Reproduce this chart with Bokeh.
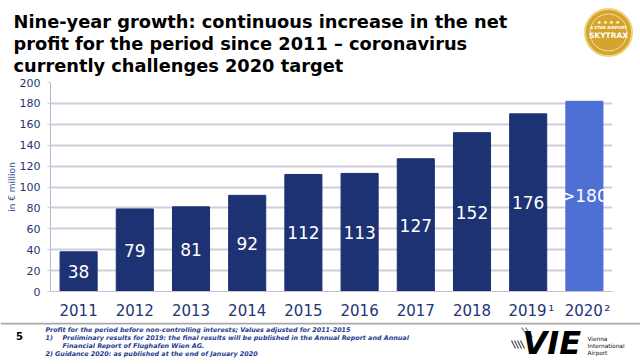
from bokeh.plotting import figure
from bokeh.layouts import column
from bokeh.models import FactorRange, Range1d, ColumnDataSource, FixedTicker
from bokeh.embed import file_html
from bokeh.resources import INLINE
from bokeh.core.properties import value

# ---------------- data ----------------
years = ["2011", "2012", "2013", "2014", "2015", "2016", "2017", "2018", "2019", "2020"]
profit = [38, 79, 81, 92, 112, 113, 127, 152, 170, 182]
bar_labels = ["38", "79", "81", "92", "112", "113", "127", "152", "176", ">180"]
footnote_years = ["2019", "2020"]
footnote_marks = ["\u00b9", "\u00b2"]
guidance_year = "2020"
y_ticks = [0, 20, 40, 60, 80, 100, 120, 140, 160, 180, 200]
y_label = "in € million"
title_lines = [
    "Nine-year growth: continuous increase in the net",
    "profit for the period since 2011 \u2013 coronavirus",
    "currently challenges 2020 target",
]
footer_lines = [
    "Profit for the period before non-controlling interests; Values adjusted for 2011-2015",
    "Preliminary results for 2019: the final results will be published in the Annual Report and Annual",
    "Financial Report of Flughafen Wien AG.",
    "Guidance 2020: as published at the end of January 2020",
]
footer_marks = ["1)", "2)"]
page_number = "5"
logo_text = "VIE"
logo_lines = ["Vienna", "International", "Airport"]
badge_lines = ["\u2605 \u2605 \u2605 \u2605", "4 STAR AIRPORT", "SKYTRAX"]

# ---------------- style ----------------
BAR = "#1d3273"
GUIDE = "#4e6fd4"
NAVY = "#233574"
GRID = "#cfcddc"
FOOT = "#1f3a8f"
FONT = "DejaVu Sans"

W = 640
TOP_H = 78          # title band (page y 0 .. 78)
MAIN_H = 244        # chart band (page y 78 .. 322)
BOT_H = 364 - TOP_H - MAIN_H


def band(h, y0):
    f = figure(width=W, height=h, x_range=Range1d(0, W), y_range=Range1d(y0 + h, y0),
               output_backend="svg", toolbar_location=None, x_axis_type=None, y_axis_type=None,
               min_border=0, frame_align=False)
    f.outline_line_color = None
    f.grid.visible = False
    return f


# ---------------- title band ----------------
top = band(TOP_H, 0)
top.text(x=[13] * 3, y=[21.4, 43.2, 65.0], text=title_lines, text_font=value(FONT),
         text_font_style="bold", text_font_size="17.8px", text_color="black", text_baseline="middle")
# skytrax badge (decoration)
top.scatter(x=[608], y=[32], size=47, marker="circle", fill_color="#d5a42c", line_color="#efd27e", line_width=2)
top.scatter(x=[608], y=[32], size=37, marker="circle", fill_color=None, line_color="#f4e2a6", line_width=1)
top.text(x=[608] * 3, y=[21, 27, 35], text=badge_lines, text_font=value(FONT), text_font_style="bold",
         text_font_size=["5px", "4px", "7.5px"], text_color="white", text_align="center",
         text_baseline="middle")

# ---------------- chart ----------------
display = {y: y for y in years}
for y, m in zip(footnote_years, footnote_marks):
    display[y] = "\u2008\u200a" + y + "\u200a" + m
factors = [display[y] for y in years]

p = figure(width=W, height=MAIN_H, x_range=FactorRange(*factors), y_range=Range1d(0, 200),
           output_backend="svg", toolbar_location=None, frame_align=False,
           min_border_left=50, min_border_right=28, min_border_top=4, min_border_bottom=30)
p.outline_line_color = None

p.xgrid.grid_line_color = None
p.ygrid.grid_line_color = GRID
p.ygrid.grid_line_width = 2
p.yaxis.ticker = FixedTicker(ticks=y_ticks)

p.yaxis.axis_line_color = "#b8b6c8"
p.yaxis.major_tick_line_color = GRID
p.yaxis.major_tick_out = 3
p.yaxis.major_tick_in = 0
p.yaxis.minor_tick_line_color = None
p.yaxis.major_label_standoff = 7
p.yaxis.major_label_text_font = FONT
p.yaxis.major_label_text_font_size = "11px"
p.yaxis.major_label_text_color = NAVY
p.yaxis.axis_label = y_label
p.yaxis.axis_label_text_font = FONT
p.yaxis.axis_label_text_font_size = "9px"
p.yaxis.axis_label_text_font_style = "normal"
p.yaxis.axis_label_text_color = "#3a4c96"
p.yaxis.axis_label_standoff = 0

p.xaxis.axis_line_color = "#c4c2d2"
p.xaxis.major_tick_line_color = None
p.xaxis.minor_tick_line_color = None
p.xaxis.major_tick_out = 0
p.xaxis.major_tick_in = 0
p.xaxis.major_label_standoff = 10
p.xaxis.major_label_text_font = FONT
p.xaxis.major_label_text_font_size = "15px"
p.xaxis.major_label_text_color = NAVY

colors = [GUIDE if y == guidance_year else BAR for y in years]
src = ColumnDataSource(dict(year=factors, profit=profit, mid=[v / 2 for v in profit],
                            label=bar_labels, color=colors))
p.vbar(x="year", top="profit", width=0.66, fill_color="color", line_color="color", source=src)
p.text(x="year", y="mid", text="label", source=src, text_align="center", text_baseline="middle",
       text_color="white", text_font=value(FONT), text_font_size="17px")

# ---------------- footer band ----------------
y0 = TOP_H + MAIN_H
bot = band(BOT_H, y0)
bot.segment(x0=[0], y0=[323], x1=[W], y1=[323], line_color="#a8a8a8", line_width=2)
bot.text(x=[19], y=[335], text=[page_number], text_font=value(FONT), text_font_style="bold",
         text_font_size="10px", text_color="black", text_align="center", text_baseline="middle")
bot.text(x=[45, 45, 62, 62, 45], y=[329.5, 337.5, 337.5, 345.2, 353],
         text=[footer_lines[0], footer_marks[0], footer_lines[1], footer_lines[2],
               footer_marks[1] + " " + footer_lines[3]],
         text_font=value(FONT), text_font_style="bold italic", text_font_size="6.4px",
         text_color=FOOT, text_baseline="middle")
# logo (decoration)
bot.segment(x0=[511, 514, 517, 520], y0=[340, 340, 340, 340], x1=[515, 518, 521, 524],
            y1=[348, 348, 348, 348], line_color="#555555", line_width=1.2)
bot.segment(x0=[521, 525], y0=[327, 327], x1=[528, 532], y1=[337, 337], line_color="#999999", line_width=1.5)
bot.text(x=[522], y=[342.5], text=[logo_text], text_font=value(FONT), text_font_style="bold italic",
         text_font_size="32px", text_color="black", text_baseline="middle")
bot.text(x=[587] * 3, y=[338.7, 345.5, 352.3], text=logo_lines, text_font=value(FONT),
         text_font_size="5.8px", text_color="#111111", text_baseline="middle")

layout = column(top, p, bot, spacing=0)
open("out.html", "w").write(file_html(layout, INLINE))
